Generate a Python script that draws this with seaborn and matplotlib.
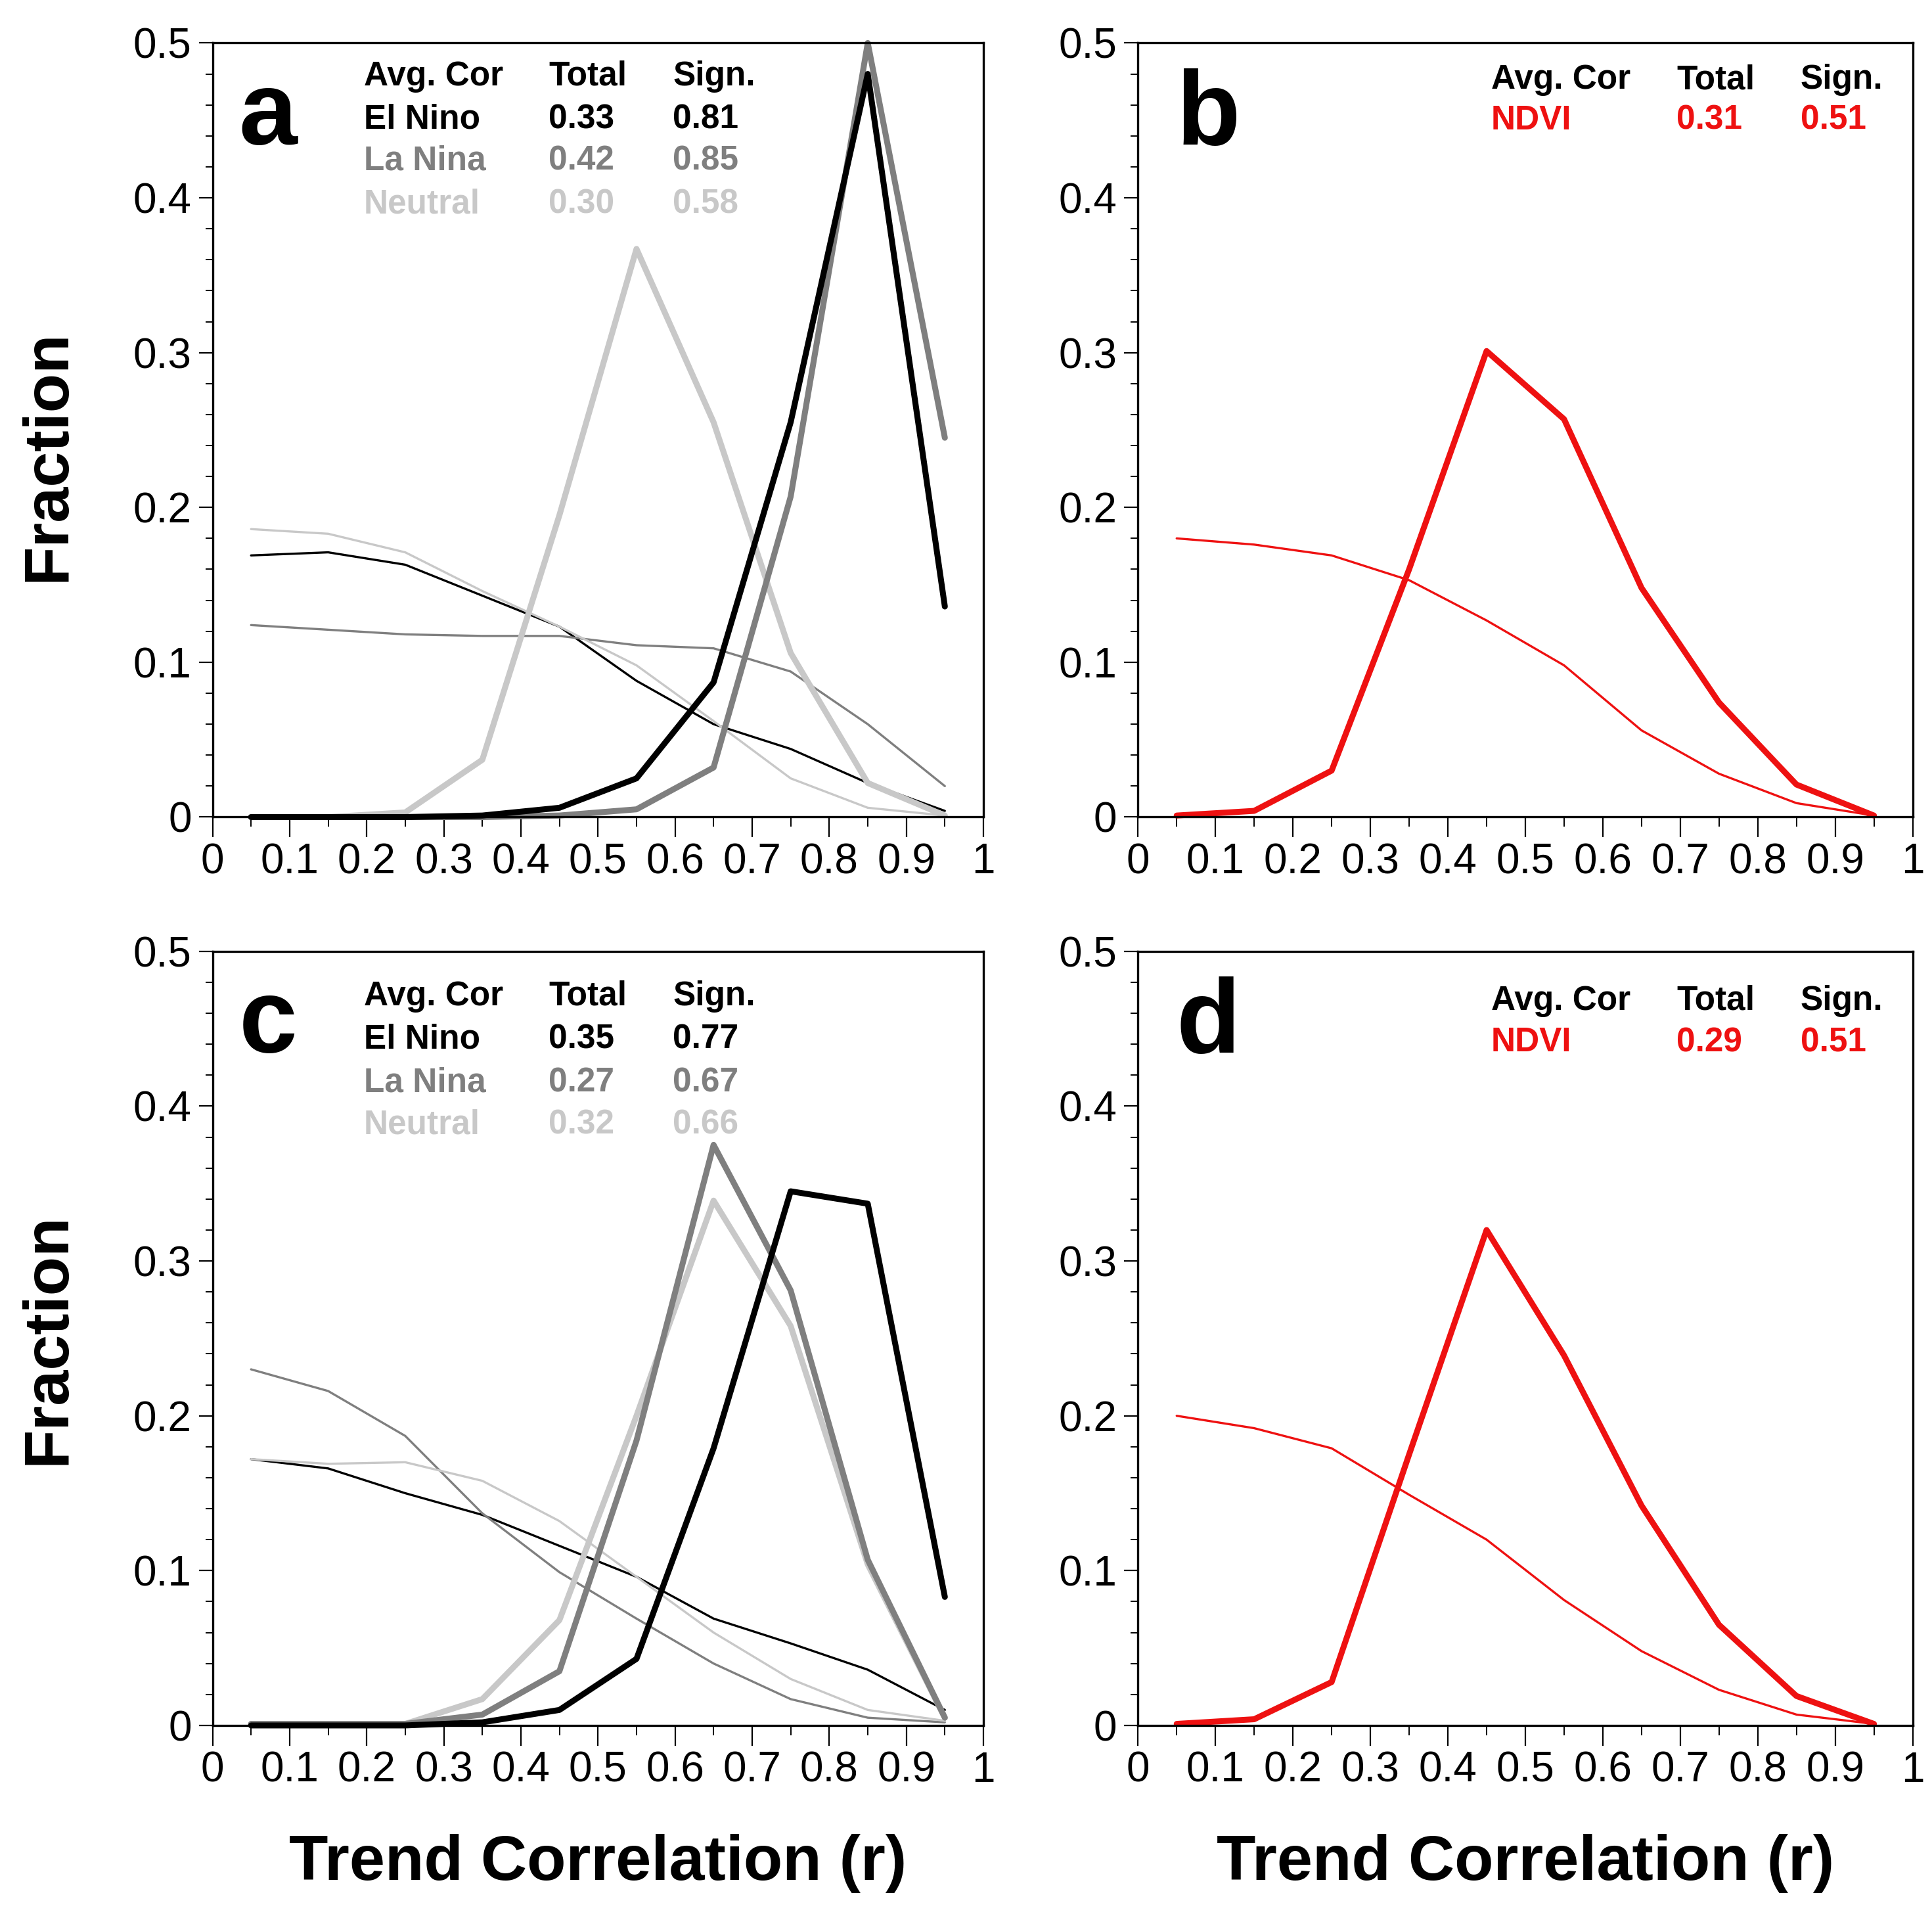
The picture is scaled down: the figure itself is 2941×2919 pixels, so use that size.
import numpy as np
import pandas as pd
import seaborn as sns
import matplotlib.pyplot as plt
from matplotlib.ticker import MultipleLocator, FixedLocator, FixedFormatter

# bin centres of the trend correlation histogram
bins = [0.05, 0.15, 0.25, 0.35, 0.45, 0.55, 0.65, 0.75, 0.85, 0.95]

# panel a: thin = total, thick = significant
a_elnino_total = [0.169, 0.171, 0.163, 0.143, 0.123, 0.088, 0.060, 0.044, 0.022, 0.004]
a_lanina_total = [0.124, 0.121, 0.118, 0.117, 0.117, 0.111, 0.109, 0.094, 0.060, 0.020]
a_neutral_total = [0.186, 0.183, 0.171, 0.146, 0.123, 0.098, 0.062, 0.025, 0.006, 0.001]
a_elnino_sign = [0.000, 0.000, 0.000, 0.001, 0.006, 0.025, 0.087, 0.255, 0.480, 0.136]
a_lanina_sign = [0.000, 0.000, 0.000, 0.000, 0.001, 0.005, 0.032, 0.207, 0.500, 0.245]
a_neutral_sign = [0.000, 0.000, 0.003, 0.037, 0.195, 0.367, 0.255, 0.106, 0.022, 0.001]

# panel c
c_elnino_total = [0.172, 0.166, 0.150, 0.136, 0.116, 0.096, 0.069, 0.053, 0.036, 0.010]
c_lanina_total = [0.230, 0.216, 0.187, 0.137, 0.099, 0.069, 0.040, 0.017, 0.005, 0.002]
c_neutral_total = [0.172, 0.169, 0.170, 0.158, 0.132, 0.096, 0.060, 0.030, 0.010, 0.003]
c_elnino_sign = [0.000, 0.000, 0.000, 0.002, 0.010, 0.043, 0.179, 0.345, 0.337, 0.083]
c_lanina_sign = [0.001, 0.001, 0.001, 0.007, 0.035, 0.184, 0.375, 0.281, 0.107, 0.005]
c_neutral_sign = [0.001, 0.001, 0.001, 0.017, 0.068, 0.200, 0.339, 0.258, 0.104, 0.005]

# panels b and d (NDVI)
b_total = [0.180, 0.176, 0.169, 0.153, 0.127, 0.098, 0.056, 0.028, 0.009, 0.001]
b_sign = [0.001, 0.004, 0.030, 0.160, 0.301, 0.257, 0.148, 0.074, 0.021, 0.001]
d_total = [0.200, 0.192, 0.179, 0.149, 0.120, 0.081, 0.048, 0.023, 0.007, 0.001]
d_sign = [0.001, 0.004, 0.028, 0.175, 0.320, 0.239, 0.142, 0.065, 0.019, 0.001]

# average correlation tables
enso_names = ["El Nino", "La Nina", "Neutral"]
a_avg_total = ["0.33", "0.42", "0.30"]
a_avg_sign = ["0.81", "0.85", "0.58"]
c_avg_total = ["0.35", "0.27", "0.32"]
c_avg_sign = ["0.77", "0.67", "0.66"]
b_avg = ["0.31", "0.51"]
d_avg = ["0.29", "0.51"]

x_ticks = [0, 0.1, 0.2, 0.3, 0.4, 0.5, 0.6, 0.7, 0.8, 0.9, 1]
x_labels = ["0", "0.1", "0.2", "0.3", "0.4", "0.5", "0.6", "0.7", "0.8", "0.9", "1"]
y_ticks = [0, 0.1, 0.2, 0.3, 0.4, 0.5]
y_labels = ["0", "0.1", "0.2", "0.3", "0.4", "0.5"]

sns.set_style("ticks")
plt.rcParams['font.family'] = ['Liberation Sans', 'DejaVu Sans']
plt.rcParams.update({
    'text.color': 'black', 'axes.labelcolor': 'black', 'axes.edgecolor': 'black',
    'xtick.color': 'black', 'ytick.color': 'black',
})

enso_colors = ["#000000", "#7f7f7f", "#c8c8c8"]
red = "#ee1111"
thin, thick = 2.4, 6.5

fig = plt.figure(figsize=(29.41, 29.19), dpi=100)
ax_a = fig.add_axes([0.110, 0.574, 0.399, 0.4036])
ax_b = fig.add_axes([0.589, 0.574, 0.401, 0.4036])
ax_c = fig.add_axes([0.110, 0.1004, 0.399, 0.4036])
ax_d = fig.add_axes([0.589, 0.1004, 0.401, 0.4036])


def style_axes(ax):
    ax.set_xlim(0, 1)
    ax.set_ylim(0, 0.5)
    ax.xaxis.set_major_locator(FixedLocator(x_ticks))
    ax.xaxis.set_major_formatter(FixedFormatter(x_labels))
    ax.yaxis.set_major_locator(FixedLocator(y_ticks))
    ax.yaxis.set_major_formatter(FixedFormatter(y_labels))
    ax.xaxis.set_minor_locator(MultipleLocator(0.05))
    ax.yaxis.set_minor_locator(MultipleLocator(0.02))
    ax.tick_params(axis='x', which='major', direction='out', length=22, width=1.6,
                   labelsize=46, pad=6)
    ax.tick_params(axis='x', which='minor', direction='out', length=11, width=1.4)
    ax.tick_params(axis='y', which='major', direction='out', length=15, width=1.6,
                   labelsize=46, pad=8)
    ax.tick_params(axis='y', which='minor', direction='out', length=8, width=1.4)
    for s in ax.spines.values():
        s.set_visible(True)
        s.set_linewidth(2.4)
        s.set_color('black')
    ax.set_xlabel("")
    ax.set_ylabel("")


# ---- ENSO panels ----
for ax, totals, signs in [
    (ax_a, [a_elnino_total, a_lanina_total, a_neutral_total],
     [a_elnino_sign, a_lanina_sign, a_neutral_sign]),
    (ax_c, [c_elnino_total, c_lanina_total, c_neutral_total],
     [c_elnino_sign, c_lanina_sign, c_neutral_sign]),
]:
    for vals, col in zip(totals, enso_colors):
        sns.lineplot(x=bins, y=vals, ax=ax, color=col, linewidth=thin, clip_on=False)
    for vals, col in zip(signs[::-1], enso_colors[::-1]):
        sns.lineplot(x=bins, y=vals, ax=ax, color=col, linewidth=thick, clip_on=False)
    style_axes(ax)

# ---- NDVI panels ----
for ax, tot, sig in [(ax_b, b_total, b_sign), (ax_d, d_total, d_sign)]:
    sns.lineplot(x=bins, y=tot, ax=ax, color=red, linewidth=thin, clip_on=False)
    sns.lineplot(x=bins, y=sig, ax=ax, color=red, linewidth=thick, clip_on=False)
    style_axes(ax)

# panel letters
for ax, letter, lx in [(ax_a, "a", 0.034), (ax_b, "b", 0.049), (ax_c, "c", 0.034), (ax_d, "d", 0.049)]:
    ax.text(lx, 0.435, letter, transform=ax.transData, fontsize=115,
            fontweight='bold', ha='left', va='baseline', color='black')

# tables for ENSO panels
fs = 37
for ax, tots, sigs, rows in [(ax_a, a_avg_total, a_avg_sign, [0.4785, 0.4506, 0.4236, 0.3957]),
                             (ax_c, c_avg_total, c_avg_sign, [0.471, 0.443, 0.415, 0.388])]:
    x0, x1, x2 = 0.196, 0.436, 0.597
    ax.text(x0, rows[0], "Avg. Cor", fontsize=fs, fontweight='bold', va='center')
    ax.text(x1, rows[0], "Total", fontsize=fs, fontweight='bold', va='center')
    ax.text(x2, rows[0], "Sign.", fontsize=fs, fontweight='bold', va='center')
    for i, (nm, t, s, col) in enumerate(zip(enso_names, tots, sigs, enso_colors)):
        y = rows[i + 1]
        ax.text(x0, y, nm, fontsize=fs, fontweight='bold', color=col, va='center')
        ax.text(x1, y, t, fontsize=fs, fontweight='bold', color=col, va='center')
        ax.text(x2, y, s, fontsize=fs, fontweight='bold', color=col, va='center')

# tables for NDVI panels
for ax, vals, rows in [(ax_b, b_avg, [0.476, 0.450]), (ax_d, d_avg, [0.468, 0.441])]:
    x0, x1, x2 = 0.456, 0.695, 0.855
    ax.text(x0, rows[0], "Avg. Cor", fontsize=fs, fontweight='bold', va='center')
    ax.text(x1, rows[0], "Total", fontsize=fs, fontweight='bold', va='center')
    ax.text(x2, rows[0], "Sign.", fontsize=fs, fontweight='bold', va='center')
    ax.text(x0, rows[1], "NDVI", fontsize=fs, fontweight='bold', color=red, va='center')
    ax.text(x1, rows[1], vals[0], fontsize=fs, fontweight='bold', color=red, va='center')
    ax.text(x2, rows[1], vals[1], fontsize=fs, fontweight='bold', color=red, va='center')

# axis labels
ax_a.set_ylabel("Fraction", fontsize=70, fontweight='bold')
ax_a.yaxis.set_label_coords(-0.175, 0.467)
ax_c.set_ylabel("Fraction", fontsize=70, fontweight='bold')
ax_c.yaxis.set_label_coords(-0.175, 0.50)
for ax in (ax_c, ax_d):
    ax.set_xlabel("Trend Correlation (r)", fontsize=70, fontweight='bold')
    ax.xaxis.set_label_coords(0.5, -0.178)
    ax.xaxis.label.set_verticalalignment('center')

fig.savefig("out.png", dpi=100)
